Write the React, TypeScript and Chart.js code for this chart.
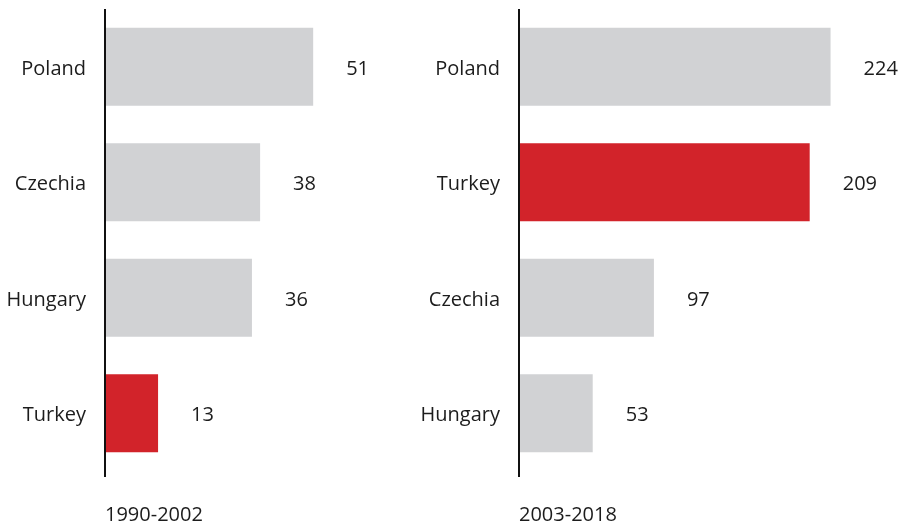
import React, { useEffect, useRef } from "react";
import { Chart, registerables } from "chart.js";

Chart.register(...registerables);

const leftCategories = ["Poland", "Czechia", "Hungary", "Turkey"];
const leftValues = [51, 38, 36, 13];
const leftTitle = "1990-2002";

const rightCategories = ["Poland", "Turkey", "Czechia", "Hungary"];
const rightValues = [224, 209, 97, 53];
const rightTitle = "2003-2018";

const GRAY = "#d1d2d4";
const RED = "#d2232a";
const TEXT = "#1c1c1c";
const FONT = "'Open Sans', sans-serif";
const FS = 20;

const colorsFor = (cats: string[]) => cats.map((c) => (c === "Turkey" ? RED : GRAY));

const valueLabels = {
  id: "valueLabels",
  afterDatasetsDraw(chart: any) {
    const ctx = chart.ctx;
    const meta = chart.getDatasetMeta(0);
    const data = chart.data.datasets[0].data;
    ctx.save();
    ctx.font = `${FS}px ${FONT}`;
    ctx.fillStyle = TEXT;
    ctx.textAlign = "left";
    ctx.textBaseline = "middle";
    meta.data.forEach((el: any, i: number) => {
      ctx.fillText(String(data[i]), el.x + 33, el.y + 2.5);
    });
    ctx.restore();
  },
};

const axisLine = {
  id: "axisLine",
  afterDraw(chart: any) {
    const { ctx, chartArea } = chart;
    ctx.save();
    ctx.strokeStyle = "#111";
    ctx.lineWidth = 2;
    ctx.beginPath();
    ctx.moveTo(chartArea.left, chartArea.top);
    ctx.lineTo(chartArea.left, chartArea.bottom + 6);
    ctx.stroke();
    ctx.restore();
  },
};

function BarPanel(props: {
  cats: string[];
  values: number[];
  title: string;
  max: number;
  left: number;
  width: number;
}) {
  const ref = useRef<HTMLCanvasElement>(null);
  useEffect(() => {
    if (!ref.current) return;
    const chart = new Chart(ref.current, {
      type: "bar",
      data: {
        labels: props.cats,
        datasets: [
          {
            data: props.values,
            backgroundColor: colorsFor(props.cats),
            barPercentage: 0.676,
            categoryPercentage: 1,
            borderWidth: 0,
          },
        ],
      },
      options: {
        indexAxis: "y",
        animation: false,
        responsive: false,
        maintainAspectRatio: false,
        layout: { padding: { top: 9, right: 0, left: 0, bottom: 0 } },
        plugins: {
          legend: { display: false },
          tooltip: { enabled: false },
        },
        scales: {
          x: {
            min: 0,
            max: props.max,
            grid: { display: false, drawTicks: false },
            border: { display: false },
            ticks: { display: false },
            title: {
              display: true,
              text: props.title,
              align: "start",
              color: TEXT,
              font: { family: FONT, size: FS },
              padding: { top: 32, bottom: 1 },
            },
          },
          y: {
            grid: { display: false, drawTicks: false },
            border: { display: false },
            ticks: {
              color: TEXT,
              font: { family: FONT, size: FS },
              padding: 19,
              labelOffset: 2.5,
            },
            afterFit(scale: any) {
              scale.width = 105;
              scale.paddingTop = 0;
              scale.paddingBottom = 0;
            },
          },
        },
      },
      plugins: [valueLabels, axisLine],
    } as any);
    return () => chart.destroy();
  }, []);
  return (
    <canvas
      ref={ref}
      width={props.width}
      height={528}
      style={{ position: "absolute", left: props.left, top: 0, display: "block" }}
    />
  );
}

export default function App() {
  return (
    <div style={{ position: "absolute", left: 0, top: 0, width: 904, height: 528, background: "#fff" }}>
      <BarPanel cats={leftCategories} values={leftValues} title={leftTitle} max={75.7} left={0} width={414} />
      <BarPanel cats={rightCategories} values={rightValues} title={rightTitle} max={276.8} left={414} width={490} />
    </div>
  );
}
